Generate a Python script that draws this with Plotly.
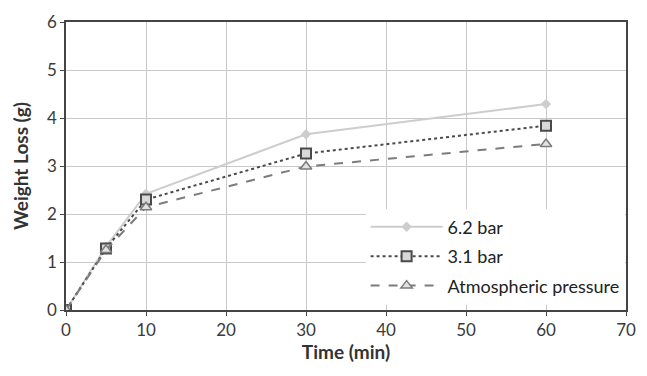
import plotly.graph_objects as go

time_min = [0, 5, 10, 30, 60]
bar62 = [0, 1.32, 2.42, 3.66, 4.29]
bar31 = [0, 1.28, 2.30, 3.26, 3.84]
atm = [0, 1.25, 2.14, 2.99, 3.46]
x_ticks = [0, 10, 20, 30, 40, 50, 60, 70]
y_ticks = [0, 1, 2, 3, 4, 5, 6]

fig = go.Figure()
fig.add_trace(go.Scatter(x=time_min, y=bar62, name="6.2 bar", mode="lines+markers",
                         legendgroup="a",
                         line=dict(color="#cdcdcd", width=2),
                         marker=dict(symbol="diamond", size=8, color="#cdcdcd")))
fig.add_trace(go.Scatter(x=time_min, y=bar31, name="3.1 bar", mode="lines+markers",
                         legendgroup="b",
                         line=dict(color="#4a4a4a", width=2, dash="dot"),
                         marker=dict(symbol="square", size=10, color="#d8d8d8",
                                     line=dict(color="#4a4a4a", width=2))))
fig.add_trace(go.Scatter(x=time_min, y=atm, name="Atmospheric pressure", mode="lines+markers",
                         legendgroup="c",
                         line=dict(color="#7c7c7c", width=2, dash="dash"),
                         marker=dict(symbol="triangle-up", size=10, color="#e2e2e2",
                                     line=dict(color="#7c7c7c", width=1.5))))

fig.update_layout(
    width=647, height=376,
    margin=dict(l=66, r=11, t=20, b=66),
    paper_bgcolor="white", plot_bgcolor="white",
    font=dict(family="Lato, Open Sans, sans-serif", size=17, color="#3a3a3a"),
    showlegend=True,
    legend=dict(x=0.535, y=0.352, xanchor="left", yanchor="top",
                bgcolor="white", font=dict(size=18, color="#222222"),
                tracegroupgap=3, itemwidth=72),
    xaxis=dict(range=[0, 70], tickvals=x_ticks, showgrid=True, gridcolor="#c8c8c8",
               gridwidth=1, showline=True, linecolor="#444444", linewidth=1.5,
               mirror=True, ticks="outside", ticklen=4, tickcolor="#444444",
               zeroline=False,
               title=dict(text="<b>Time (min)</b>", font=dict(size=19, color="#333333"),
                          standoff=6)),
    yaxis=dict(range=[0, 6], tickvals=y_ticks, showgrid=True, gridcolor="#c8c8c8",
               gridwidth=1, showline=True, linecolor="#444444", linewidth=1.5,
               mirror=True, ticks="outside", ticklen=4, tickcolor="#444444",
               zeroline=False,
               title=dict(text="<b>Weight Loss (g)</b>", font=dict(size=19, color="#333333"),
                          standoff=13)),
)

fig.write_html("out.html")
